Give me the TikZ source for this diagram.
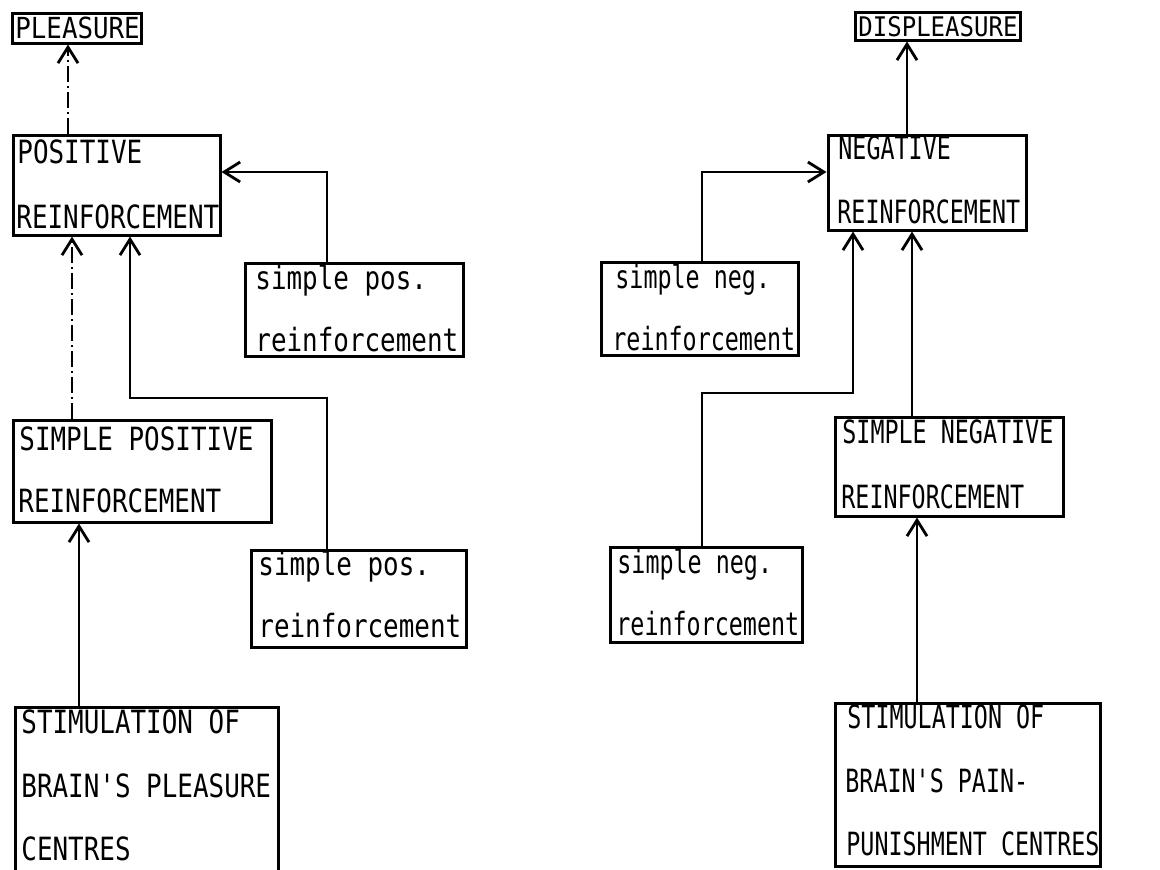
\documentclass[tikz,border=0pt]{standalone}
\usepackage{fontspec}
\newfontfamily\typer[FakeStretch=0.81]{DejaVu Sans Mono}
\newfontfamily\typenarrow[FakeStretch=0.73]{DejaVu Sans Mono}
\newfontfamily\typehead[FakeStretch=0.89]{DejaVu Sans Mono}
\usetikzlibrary{arrows.meta,fit}

\tikzset{
    blk/.style={draw, line width=1.5pt, inner sep=0pt, fit={#1}},
    txt/.style={anchor=base west, inner sep=0pt, font=\typer\fontsize{16}{18}\selectfont},
    txtn/.style={txt, font=\typenarrow\fontsize{16}{18}\selectfont},
    title/.style={txt, font=\typehead\fontsize{14.5}{16}\selectfont},
    arr/.style={line width=1.2pt, -{Straight Barb[length=8pt,width=10pt,line width=1.4pt]}},
    faint/.style={arr, line width=0.6pt, dash pattern=on 8pt off 2pt on 1pt off 2pt}
}

\begin{document}
\begin{tikzpicture}[x=0.5pt, y=-0.5pt]
            \useasboundingbox (0,0) rectangle (1160,869);

            % left column
            \node[blk={(12,13) (141,43)}] (pls) {};
            \node[title] (plst) at (15,38) {PLEASURE};
            \node[blk={(13,135) (220,235)}] (pr) {};
            \node[txt] (pr1) at (17,163) {POSITIVE};
            \node[txt] (pr2) at (16,228) {REINFORCEMENT};
            \node[blk={(245,263) (463,356)}] (sp1) {};
            \node[txt] (sp1a) at (255,289) {simple pos.};
            \node[txt] (sp1b) at (255,351) {reinforcement};
            \node[blk={(13,420) (271,522)}] (spr) {};
            \node[txt] (spr1) at (19,450) {SIMPLE POSITIVE};
            \node[txt] (spr2) at (18,512) {REINFORCEMENT};
            \node[blk={(251,550) (466,647)}] (sp2) {};
            \node[txt] (sp2a) at (258,575) {simple pos.};
            \node[txt] (sp2b) at (258,637) {reinforcement};
            \node[blk={(15,707) (278,880)}] (stl) {};
            \node[txt] (stl1) at (21,733) {STIMULATION OF};
            \node[txt] (stl2) at (21,797) {BRAIN'S PLEASURE};
            \node[txt] (stl3) at (21,860) {CENTRES};

            \draw[faint] (68,0 |- pr.north) -- (68,0 |- pls.south);
            \draw[arr] (327,0 |- sp1.north) |- (pr.east |- 0,172);
            \draw[faint] (72,0 |- spr.north) -- (72,0 |- pr.south);
            \draw[arr] (327,0 |- sp2.north) |- (130,398) -- (130,0 |- pr.south);
            \draw[arr] (79,0 |- stl.north) -- (79,0 |- spr.south);

            % right column
            \node[blk={(855,12) (1020,40)}] (dpl) {};
            \node[title, font=\typehead\fontsize{13.5}{15}\selectfont] (dplt) at (858,36) {DISPLEASURE};
            \node[blk={(828,135) (1026,230)}] (nr) {};
            \node[txtn] (nr1) at (838,159) {NEGATIVE};
            \node[txtn] (nr2) at (837,223) {REINFORCEMENT};
            \node[blk={(601,262) (798,355)}] (sn1) {};
            \node[txtn] (sn1a) at (615,288) {simple neg.};
            \node[txtn] (sn1b) at (612,350) {reinforcement};
            \node[blk={(835,417) (1063,516)}] (snr) {};
            \node[txtn] (snr1) at (842,443) {SIMPLE NEGATIVE};
            \node[txtn] (snr2) at (841,508) {REINFORCEMENT};
            \node[blk={(610,547) (802,642)}] (sn2) {};
            \node[txtn] (sn2a) at (617,573) {simple neg.};
            \node[txtn] (sn2b) at (616,635) {reinforcement};
            \node[blk={(835,703) (1100,866)}] (str) {};
            \node[txtn] (str1) at (847,728) {STIMULATION OF};
            \node[txtn] (str2) at (845,792) {BRAIN'S PAIN-};
            \node[txtn] (str3) at (846,855) {PUNISHMENT CENTRES};

            \draw[arr] (907,0 |- nr.north) -- (907,0 |- dpl.south);
            \draw[arr] (702,0 |- sn1.north) |- (nr.west |- 0,172);
            \draw[arr] (702,0 |- sn2.north) |- (853,393) -- (853,0 |- nr.south);
            \draw[arr] (912,0 |- snr.north) -- (912,0 |- nr.south);
            \draw[arr] (917,0 |- str.north) -- (917,0 |- snr.south);
        \end{tikzpicture}
\end{document}
